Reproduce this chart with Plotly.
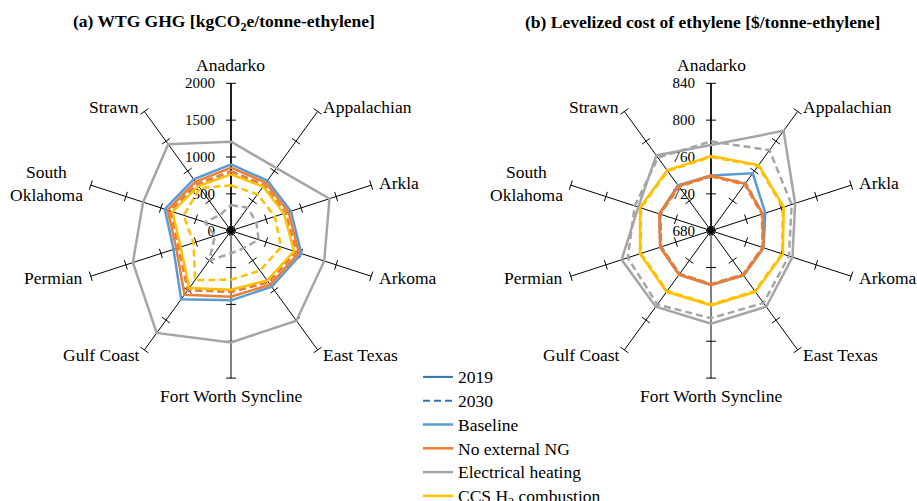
import math
import plotly.graph_objects as go

# ---------------- data ----------------
categories = ["Anadarko", "Appalachian", "Arkla", "Arkoma", "East Texas",
              "Fort Worth Syncline", "Gulf Coast", "Permian", "South Oklahoma", "Strawn"]
category_labels = ["Anadarko", "Appalachian", "Arkla", "Arkoma", "East Texas",
                   "Fort Worth Syncline", "Gulf Coast", "Permian", "South<br>Oklahoma", "Strawn"]

# (a) WTG GHG [kgCO2e/tonne-ethylene]
ghg_baseline_2019 = [900, 840, 855, 1005, 940, 945, 1150, 820, 945, 860]
ghg_baseline_2030 = [805, 765, 780, 930, 865, 830, 995, 745, 865, 780]
ghg_noext_2019 = [855, 805, 820, 970, 905, 895, 1075, 780, 905, 820]
ghg_noext_2030 = [805, 765, 780, 930, 865, 830, 995, 745, 865, 780]
ghg_elec_2019 = [1208, 1050, 1405, 1330, 1510, 1516, 1715, 1400, 1254, 1450]
ghg_elec_2030 = [348, 385, 362, 393, 293, 308, 500, 229, 374, 260]
ghg_ccs_2019 = [765, 740, 755, 900, 835, 800, 960, 720, 835, 750]
ghg_ccs_2030 = [615, 610, 625, 715, 670, 665, 830, 535, 675, 715]
ghg_ticks = [0, 500, 1000, 1500, 2000]

# (b) Levelized cost of ethylene [$/tonne-ethylene]
cost_baseline_2019 = [740, 757, 742, 740, 740, 739, 739, 738, 739, 741]
cost_baseline_2030 = [739, 744, 739, 739, 739, 738, 738, 737, 738, 740]
cost_noext_2019 = [740, 743, 739, 740, 740, 739, 739, 738, 739, 740]
cost_noext_2030 = [739, 742, 738, 739, 739, 738, 738, 737, 738, 739]
cost_elec_2019 = [773, 814, 776, 773, 782, 781, 782, 782, 763, 781]
cost_elec_2030 = [777, 788, 772, 769, 777, 775, 779, 775, 767, 778]
cost_ccs_2019 = [761, 768, 763, 762, 762, 761, 762, 761, 761, 761]
cost_ccs_2030 = [760, 767, 762, 761, 761, 760, 761, 760, 760, 760]
cost_ticks = [680, 720, 760, 800, 840]

scenario_names = ["Baseline", "No external NG", "Electrical heating", "CCS H<sub>2</sub> combustion"]
scenario_colors = ["#5B9BD5", "#ED7D31", "#A5A5A5", "#FFC000"]
year_names = ["2019", "2030"]
year_color = "#2E75B6"

FONT = "Liberation Serif"
DASH = "7px,4px"

ghg_series = [(ghg_baseline_2019, ghg_baseline_2030), (ghg_noext_2019, ghg_noext_2030),
              (ghg_elec_2019, ghg_elec_2030), (ghg_ccs_2019, ghg_ccs_2030)]
cost_series = [(cost_baseline_2019, cost_baseline_2030), (cost_noext_2019, cost_noext_2030),
               (cost_elec_2019, cost_elec_2030), (cost_ccs_2019, cost_ccs_2030)]

W, H = 917, 501
R = 147.4          # polar radius in px
CENTERS = [(231, 230.7), (711, 230.7)]

fig = go.Figure()


def closed(vals):
    return list(vals) + [vals[0]]


def spoke_angle(k):
    return 360.0 / len(categories) * k


def add_spoke_ticks(subplot, ticks):
    th, rr, ang = [], [], []
    for k, c in enumerate(categories):
        for t in ticks:
            th.append(c)
            rr.append(t)
            ang.append(spoke_angle(k))
    fig.add_trace(go.Scatterpolar(
        r=rr, theta=th, mode="markers", subplot=subplot, showlegend=False,
        hoverinfo="skip", cliponaxis=False,
        marker=dict(symbol="line-ew", size=7, angle=ang,
                    line=dict(color="black", width=1), color="black")))


def label_annotations(cx, cy, gap=6):
    anns = []
    for k, lab in enumerate(category_labels):
        a = math.radians(spoke_angle(k))
        s, c = math.sin(a), math.cos(a)
        px = cx + (R + gap) * s
        py = cy - (R + gap) * c
        if abs(s) < 1e-6:
            xa, ya = "center", ("bottom" if c > 0 else "top")
        else:
            xa, ya = ("left" if s > 0 else "right"), "middle"
        anns.append(dict(text=lab, x=px / W, y=1 - py / H, xref="paper", yref="paper",
                         showarrow=False, xanchor=xa, yanchor=ya, align="center",
                         font=dict(family=FONT, size=17.5, color="black")))
    return anns


for subplot, series, ticks in [("polar", ghg_series, ghg_ticks), ("polar2", cost_series, cost_ticks)]:
    add_spoke_ticks(subplot, ticks)
    for (s2019, s2030), name, col in zip(series, scenario_names, scenario_colors):
        for vals, dash in [(s2019, "solid"), (s2030, DASH)]:
            fig.add_trace(go.Scatterpolar(
                r=closed(vals), theta=closed(categories), mode="lines", subplot=subplot,
                showlegend=False, line=dict(color=col, width=2.5, dash=dash), name=name))


def legend_name(t):
    return '<span style="font-size:17.5px">' + t + '</span>'


# legend entries
for yname, dash in zip(year_names, ["solid", DASH]):
    fig.add_trace(go.Scatterpolar(r=[None], theta=[None], mode="lines", name=legend_name(yname),
                                  subplot="polar", line=dict(color=year_color, width=2, dash=dash)))
for name, col in zip(scenario_names, scenario_colors):
    fig.add_trace(go.Scatterpolar(r=[None], theta=[None], mode="lines", name=legend_name(name),
                                  subplot="polar", line=dict(color=col, width=2.5)))


def dom(cx, cy):
    return dict(x=[(cx - R) / W, (cx + R) / W], y=[(H - cy - R) / H, (H - cy + R) / H])


def polar_cfg(cx, cy, rng, ticks):
    return dict(
        domain=dom(cx, cy),
        bgcolor="white",
        angularaxis=dict(
            type="category", categoryarray=categories, direction="clockwise", rotation=90,
            showticklabels=False,
            showline=False, showgrid=True, gridcolor="black", gridwidth=1, ticks="",
            layer="below traces"),
        radialaxis=dict(
            range=rng, tickvals=ticks, angle=90, side="counterclockwise", tickangle=90,
            showline=True, linecolor="black", linewidth=1.5, showgrid=False,
            ticks="outside", ticklen=10, tickcolor="rgba(0,0,0,0)",
            tickfont=dict(family=FONT, size=15, color="black"), layer="below traces"),
    )


annotations = [
    dict(text="<b>(a) WTG GHG [kgCO<sub>2</sub>e/tonne-ethylene]</b>", x=224 / W, y=1 - 22 / H,
         xref="paper", yref="paper", showarrow=False, xanchor="center", yanchor="middle",
         font=dict(family=FONT, size=17.5, color="black")),
    dict(text="<b>(b) Levelized cost of ethylene [$/tonne-ethylene]</b>", x=702 / W, y=1 - 22 / H,
         xref="paper", yref="paper", showarrow=False, xanchor="center", yanchor="middle",
         font=dict(family=FONT, size=17.5, color="black")),
]
for cx, cy in CENTERS:
    annotations += label_annotations(cx, cy)

fig.update_layout(
    width=W, height=H,
    paper_bgcolor="white", plot_bgcolor="white",
    margin=dict(l=0, r=0, t=0, b=0, autoexpand=False),
    font=dict(family=FONT, color="black"),
    polar=polar_cfg(*CENTERS[0], [0, 2000], ghg_ticks),
    polar2=polar_cfg(*CENTERS[1], [680, 840], cost_ticks),
    legend=dict(x=418 / W, y=1 - 360 / H, xanchor="left", yanchor="top",
                font=dict(family=FONT, size=16, color="black"),
                bgcolor="rgba(0,0,0,0)", borderwidth=0, tracegroupgap=0),
    annotations=annotations,
)

fig.write_html("out.html", config={"displayModeBar": False},
               post_script="document.body.style.margin='0px';")
